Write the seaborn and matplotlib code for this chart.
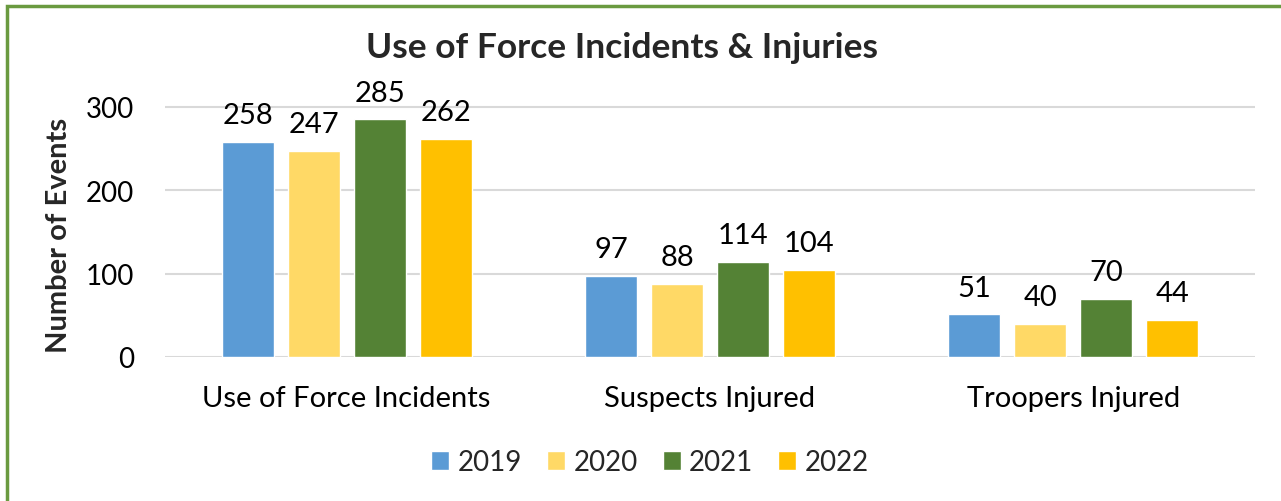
import pandas as pd
import matplotlib.pyplot as plt
import seaborn as sns
from matplotlib.patches import Rectangle

# 데이터
categories = ['Use of Force Incidents', 'Suspects Injured', 'Troopers Injured']
years = ['2019', '2020', '2021', '2022']
values_2019 = [258, 97, 51]
values_2020 = [247, 88, 40]
values_2021 = [285, 114, 70]
values_2022 = [262, 104, 44]
colors = ['#5B9BD5', '#FFD966', '#548235', '#FFC000']

df = pd.DataFrame({
    'category': categories * 4,
    'year': [y for y in years for _ in categories],
    'value': values_2019 + values_2020 + values_2021 + values_2022,
})

sns.set_theme(style='white')
plt.rcParams['font.family'] = ['Lato', 'DejaVu Sans']

fig = plt.figure(figsize=(12.81, 5.02), dpi=100)
ax = fig.add_axes([0.1288, 0.2869, 0.8509, 0.5811])

sns.barplot(data=df, x='category', y='value', hue='year', order=categories,
            hue_order=years, palette=colors, width=0.726, gap=0.21,
            saturation=1, ax=ax, legend=True)

for cont in ax.containers:
    ax.bar_label(cont, fmt='%d', padding=10, fontsize=21, color='black')

ax.set_ylim(0, 350)
ax.set_xlim(-0.5, 2.5)
ax.set_yticks([0, 100, 200, 300])
ax.yaxis.grid(True, color='#D9D9D9', linewidth=1.5)
ax.set_axisbelow(True)
for s in ax.spines.values():
    s.set_visible(False)
ax.tick_params(axis='both', length=0, labelsize=20, colors='black')
ax.tick_params(axis='x', labelsize=21, pad=20)
ax.tick_params(axis='y', pad=22)
ax.set_xlabel('')
ax.set_ylabel('Number of Events', fontsize=21, fontweight='bold')
ax.yaxis.set_label_coords(-0.0853, 0.42)

fig.text(0.4856, 0.905, 'Use of Force Incidents & Injuries', ha='center', va='center',
         fontsize=25.5, fontweight='bold')

ax.legend(loc='center', bbox_to_anchor=(0.445, -0.36), ncol=4, frameon=False,
          fontsize=20, handlelength=0.65, handleheight=0.65, handletextpad=0.3,
          columnspacing=0.9)

# 테두리
fig.patches.append(Rectangle((6.5 / 1281, -1), 2, 2 - 6.5 / 502, transform=fig.transFigure,
                             fill=False, edgecolor='#6A9A40', linewidth=2.5))

fig.savefig('out.png', dpi=100)
